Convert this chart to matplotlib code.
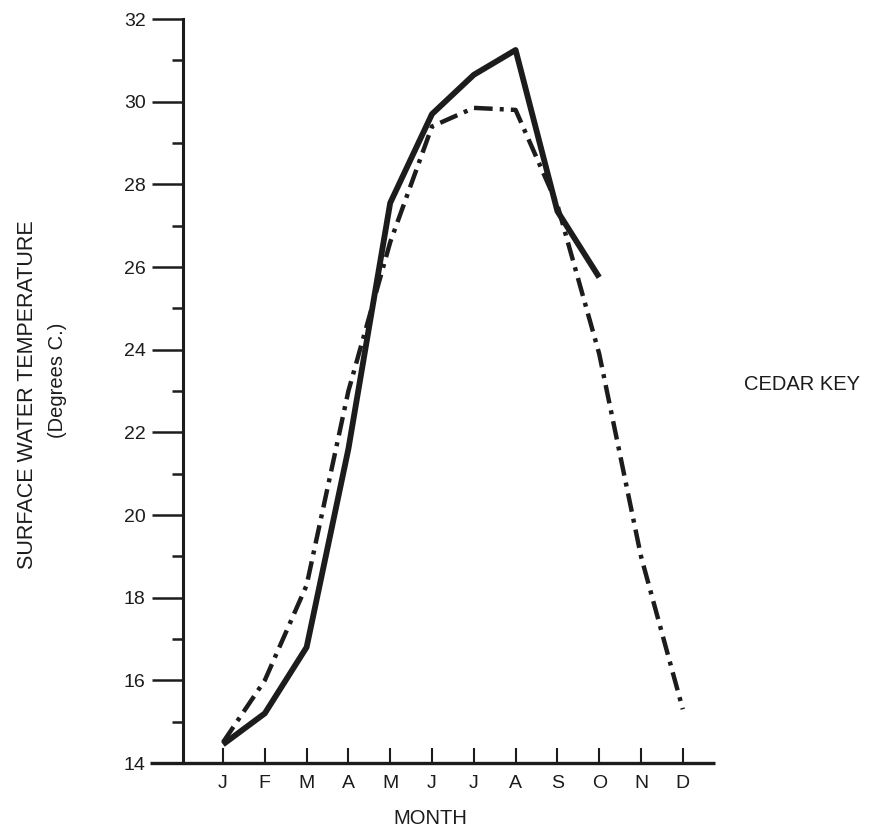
import matplotlib
matplotlib.use("Agg")
import matplotlib.pyplot as plt
from matplotlib.ticker import MultipleLocator

plt.rcParams["font.family"] = ["Liberation Sans", "DejaVu Sans"]

INK = "#1c1c1c"

# --- data ---
months = ["J", "F", "M", "A", "M", "J", "J", "A", "S", "O", "N", "D"]
solid_temp = [14.45, 15.2, 16.8, 21.6, 27.55, 29.7, 30.65, 31.25, 27.35, 25.75]
dashdot_temp = [14.5, 16.0, 18.3, 23.0, 26.6, 29.4, 29.85, 29.8, 27.5, 23.9, 19.0, 15.3]

W, H = 870, 832
fig = plt.figure(figsize=(W / 100, H / 100), dpi=100)
fig.patch.set_facecolor("white")

# axes placed in pixel terms: y-axis at x=183, x-axis at y=763, top at y=19
ax = fig.add_axes([183 / W, 1 - 763 / H, (715 - 183) / W, (763 - 19) / H])

step = 41.8  # px per month
x0 = 1 - (223 - 183) / step
x1 = 1 + (715 - 223) / step
ax.set_xlim(x0, x1)
ax.set_ylim(14, 32)

xs = list(range(1, 13))

ax.plot(xs[:len(solid_temp)], solid_temp, color=INK, lw=4.2,
        solid_joinstyle="round", solid_capstyle="butt", zorder=3)
ax.plot(xs, dashdot_temp, color=INK, lw=3.2, dash_capstyle="butt",
        ls=(0, (4.2, 1.6, 0.9, 1.6)), zorder=2)

# spines
for s in ["top", "right", "bottom"]:
    ax.spines[s].set_visible(False)
ax.spines["left"].set_linewidth(2.2)
ax.spines["left"].set_color(INK)

# x axis line runs a bit left of the y axis, like the original
ax.plot([x0 - 33 / step, x1], [14, 14], color=INK, lw=2.4,
        clip_on=False, solid_capstyle="butt", zorder=4)

ax.yaxis.set_major_locator(MultipleLocator(2))
ax.yaxis.set_minor_locator(MultipleLocator(1))
ax.tick_params(axis="y", which="major", direction="out", length=22,
               width=1.8, color=INK, pad=5, labelsize=14, labelcolor=INK)
ax.tick_params(axis="y", which="minor", direction="out", length=8,
               width=1.8, color=INK)

ax.set_xticks(xs)
ax.set_xticklabels(months)
ax.tick_params(axis="x", direction="in", length=11, width=1.5, color=INK,
               pad=9, labelsize=14, labelcolor=INK)

# labels
fig.text(28 / W, 1 - 395 / H, "SURFACE WATER TEMPERATURE", rotation=90,
         ha="center", va="center", fontsize=15.5, color=INK)
fig.text(58 / W, 1 - 380 / H, "(Degrees C.)", rotation=90,
         ha="center", va="center", fontsize=14.5, color=INK)
fig.text(430 / W, 1 - 818 / H, "MONTH", ha="center", va="center",
         fontsize=14.5, color=INK)
fig.text(802 / W, 1 - 385 / H, "CEDAR KEY", ha="center", va="center",
         fontsize=14.5, color=INK)

fig.savefig("out.png", dpi=100, facecolor="white")
